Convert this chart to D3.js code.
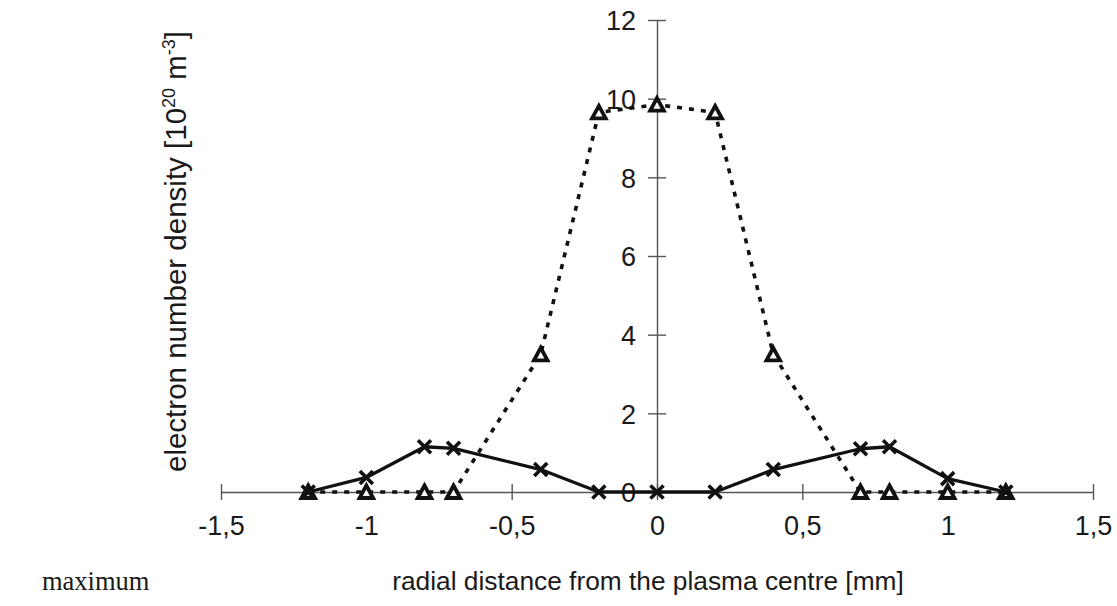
<!DOCTYPE html>
<html>
<head>
<meta charset="utf-8">
<script src="https://cdn.jsdelivr.net/npm/d3@7"></script>
<style>
  html, body { margin: 0; padding: 0; background: #fff; }
  svg { display: block; }
  text { font-family: "Liberation Sans", Arial, sans-serif; fill: #1a1a1a; }
</style>
</head>
<body>
<svg id="chart" width="1117" height="606"></svg>
<script>
// Radial positions [mm]
const radius = [-1.2, -1, -0.8, -0.7, -0.4, -0.2, 0, 0.2, 0.4, 0.7, 0.8, 1, 1.2];
// Electron number density [1e20 m^-3], cross markers (solid line)
const densityCross = [0, 0.37, 1.15, 1.11, 0.57, 0, 0, 0, 0.57, 1.1, 1.15, 0.34, 0];
// Electron number density [1e20 m^-3], triangle markers (dotted line)
const densityTriangle = [0, 0, 0, 0, 3.5, 9.65, 9.85, 9.65, 3.5, 0, 0, 0, 0];

const xTickValues = [-1.5, -1, -0.5, 0, 0.5, 1, 1.5];
const xTickLabels = ["-1,5", "-1", "-0,5", "0", "0,5", "1", "1,5"];
const yTickValues = [0, 2, 4, 6, 8, 10, 12];
const yTickLabels = ["0", "2", "4", "6", "8", "10", "12"];

const svg = d3.select("#chart");
svg.append("rect").attr("width", 1117).attr("height", 606).attr("fill", "#fff");

const x = d3.scaleLinear().domain([-1.5, 1.5]).range([221, 1093]);
const y = d3.scaleLinear().domain([0, 12]).range([492, 20]);

const axisColor = "#555";
const ink = "#151515";

// x axis through y = 0, ticks crossing the line
const gx = svg.append("g")
  .attr("transform", `translate(0,${y(0)})`)
  .call(d3.axisBottom(x)
    .tickValues(xTickValues)
    .tickFormat((d, i) => xTickLabels[i])
    .tickSizeOuter(0));
gx.select(".domain").attr("stroke", axisColor).attr("stroke-width", 1.4);
gx.selectAll(".tick line").attr("y1", -8).attr("y2", 8)
  .attr("stroke", axisColor).attr("stroke-width", 1.4);
gx.selectAll(".tick text")
  .attr("y", 43).attr("dy", "0")
  .style("font-size", "27px").attr("fill", ink)
  .style("font-family", "'Liberation Sans', Arial, sans-serif");

// y axis through x = 0
const gy = svg.append("g")
  .attr("transform", `translate(${x(0)},0)`)
  .call(d3.axisLeft(y)
    .tickValues(yTickValues)
    .tickFormat((d, i) => yTickLabels[i])
    .tickSizeOuter(0));
gy.select(".domain").attr("stroke", axisColor).attr("stroke-width", 1.4);
gy.selectAll(".tick line").attr("x1", -9).attr("x2", 9)
  .attr("stroke", axisColor).attr("stroke-width", 1.4);
gy.selectAll(".tick text")
  .attr("x", -21).attr("dy", "0.36em")
  .style("font-size", "27px").attr("fill", ink)
  .style("font-family", "'Liberation Sans', Arial, sans-serif");

// axis titles
svg.append("text")
  .attr("x", 648).attr("y", 590)
  .attr("text-anchor", "middle")
  .attr("fill", ink)
  .style("font-size", "26.3px")
  .text("radial distance from the plasma centre [mm]");

const yTitle = svg.append("text")
  .attr("transform", "translate(186,472) rotate(-90)")
  .attr("text-anchor", "start")
  .attr("fill", ink)
  .style("font-size", "29.5px");
yTitle.append("tspan").text("electron number density [10");
yTitle.append("tspan").attr("dy", -11).style("font-size", "18px").text("20");
yTitle.append("tspan").attr("dy", 11).text(" m");
yTitle.append("tspan").attr("dy", -11).style("font-size", "18px").text("-3");
yTitle.append("tspan").attr("dy", 11).text("]");

// stray caption word at lower left
svg.append("text")
  .attr("x", 42).attr("y", 590)
  .style("font-family", "'Liberation Serif', 'DejaVu Serif', serif")
  .style("font-size", "26.5px")
  .attr("fill", "#333")
  .text("maximum");

const triPts = radius.map((r, i) => [r, densityTriangle[i]]);
const crossPts = radius.map((r, i) => [r, densityCross[i]]);
const line = d3.line().x(d => x(d[0])).y(d => y(d[1]));

// dotted triangle series
svg.append("path")
  .datum(triPts)
  .attr("d", line)
  .attr("fill", "none")
  .attr("stroke", "#111")
  .attr("stroke-width", 3.6)
  .attr("stroke-dasharray", "5,7");

// solid cross series
svg.append("path")
  .datum(crossPts)
  .attr("d", line)
  .attr("fill", "none")
  .attr("stroke", "#111")
  .attr("stroke-width", 3.3)
  .attr("stroke-linejoin", "round");

// triangle markers
svg.append("g").selectAll("path")
  .data(triPts)
  .join("path")
  .attr("transform", d => `translate(${x(d[0])},${y(d[1])})`)
  .attr("d", "M0,-6.5 L6.8,6 L-6.8,6 Z")
  .attr("fill", "#fff")
  .attr("stroke", "#111")
  .attr("stroke-width", 3.8)
  .attr("stroke-linejoin", "miter");

// cross markers
svg.append("g").selectAll("path")
  .data(crossPts)
  .join("path")
  .attr("transform", d => `translate(${x(d[0])},${y(d[1])})`)
  .attr("d", "M-6.5,-6.5 L6.5,6.5 M-6.5,6.5 L6.5,-6.5")
  .attr("fill", "none")
  .attr("stroke", "#111")
  .attr("stroke-width", 3.6);
</script>
</body>
</html>
